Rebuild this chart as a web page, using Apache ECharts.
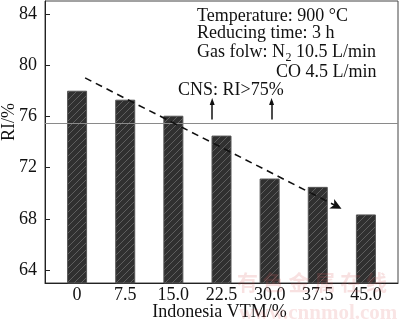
<!DOCTYPE html>
<html><head><meta charset="utf-8">
<script src="https://cdn.jsdelivr.net/npm/echarts@6/dist/echarts.min.js"></script>
<style>html,body{margin:0;padding:0;background:#fff}#c{width:400px;height:323px}</style>
</head><body><div id="c"></div>
<script>
const categories = [0, 7.5, 15.0, 22.5, 30.0, 37.5, 45.0];
const tickLabels = ['0', '7.5', '15.0', '22.5', '30.0', '37.5', '45.0'];
const riValues = [78.0, 77.3, 76.05, 74.5, 71.15, 70.5, 68.35];
const yTicks = [64, 68, 72, 76, 80, 84];
const cnsLimit = 75.5;
const trendStart = [1.25, 79.0];
const trendEnd = [41.2, 68.8];
const cnsArrowX = [21.05, 30.3];
const cnsArrowY = [75.75, 77.15];

const FONT = "'Liberation Serif','Times New Roman',serif";

function hatch() {
  const c = document.createElement('canvas');
  c.width = 7; c.height = 7;
  const g = c.getContext('2d');
  g.fillStyle = '#303030'; g.fillRect(0, 0, 7, 7);
  g.strokeStyle = '#5e5e5e'; g.lineWidth = 1;
  g.beginPath();
  g.moveTo(-1, 8); g.lineTo(8, -1);
  g.moveTo(-1, 1); g.lineTo(1, -1);
  g.moveTo(6, 8); g.lineTo(8, 6);
  g.stroke();
  return c;
}
const mctx = document.createElement('canvas').getContext('2d');
function tw(s, f) { mctx.font = f; return mctx.measureText(s).width; }

const chart = echarts.init(document.getElementById('c'), null, {renderer: 'canvas'});
const txt = (x, y, s, extra) => Object.assign({
  type: 'text', x: x, y: y, silent: true,
  style: Object.assign({text: s, font: '18px ' + FONT, fill: '#111', verticalAlign: 'middle'}, extra || {})
});
const gasA = 'Gas folw: N', gasB = ' 10.5 L/min';
const wA = tw(gasA, '18px ' + FONT), wS = tw('2', '12px ' + FONT);

chart.setOption({
  animation: false,
  backgroundColor: '#fff',
  grid: {left: 45, right: 2, top: 1, bottom: 40, show: true, borderColor: '#444', borderWidth: 1, outerBoundsMode: 'none'},
  xAxis: {
    type: 'value', min: -5, max: 50,
    axisLine: {onZero: false, lineStyle: {color: '#222', width: 1}},
    axisTick: {inside: true, length: 5, customValues: categories, lineStyle: {color: '#222'}},
    axisLabel: {customValues: categories, formatter: v => tickLabels[categories.indexOf(v)], color: '#111', fontFamily: FONT, fontSize: 18, margin: 3},
    splitLine: {show: false}
  },
  yAxis: {
    type: 'value', min: 63, max: 85,
    axisLine: {show: true, onZero: false, lineStyle: {color: '#222', width: 1}},
    axisTick: {show: true, inside: true, length: 5, customValues: yTicks, lineStyle: {color: '#222'}},
    axisLabel: {customValues: yTicks, color: '#111', fontFamily: FONT, fontSize: 18, margin: 8},
    splitLine: {show: false}
  },
  series: [{
    type: 'bar',
    data: categories.map((c, i) => [c, riValues[i]]),
    barWidth: 20,
    itemStyle: {color: {image: hatch(), repeat: 'repeat'}, borderColor: '#555', borderWidth: 1},
    emphasis: {disabled: true},
    markLine: {
      silent: true, animation: false,
      label: {show: false},
      symbol: ['none', 'none'],
      data: [
        [{coord: [-5, cnsLimit], symbol: 'none', lineStyle: {color: '#8a8a8a', width: 1, type: 'solid'}},
         {coord: [50, cnsLimit], symbol: 'none'}],
        [{coord: trendStart, symbol: 'none', lineStyle: {color: '#111', width: 1.6, type: [7, 5]}},
         {coord: trendEnd, symbol: 'arrow', symbolSize: [8, 11]}],
        [{coord: [cnsArrowX[0], cnsArrowY[0]], symbol: 'none', lineStyle: {color: '#111', width: 1.5, type: 'solid'}},
         {coord: [cnsArrowX[0], cnsArrowY[1]], symbol: 'triangle', symbolSize: [5, 7]}],
        [{coord: [cnsArrowX[1], cnsArrowY[0]], symbol: 'none', lineStyle: {color: '#111', width: 1.5, type: 'solid'}},
         {coord: [cnsArrowX[1], cnsArrowY[1]], symbol: 'triangle', symbolSize: [5, 7]}]
      ]
    }
  }],
  graphic: [
    txt(197, 16.5, 'Temperature: 900 °C'),
    txt(197, 33.5, 'Reducing time: 3 h'),
    txt(197, 52, gasA),
    txt(197 + wA + 0.5, 58, '2', {font: '12px ' + FONT}),
    txt(197 + wA + 0.5 + wS, 52, gasB),
    txt(276, 72, 'CO 4.5 L/min'),
    txt(178, 90.5, 'CNS: RI>75%'),
    txt(219.5, 312, 'Indonesia VTM/%', {align: 'center'}),
    {type: 'text', x: 9, y: 122, rotation: Math.PI / 2, silent: true,
     style: {text: 'RI/%', font: '18px ' + FONT, fill: '#111', align: 'center', verticalAlign: 'middle'}},
    {type: 'text', x: 312, y: 282, silent: true, z: 100,
     style: {text: '有 色 金 属 在 线', font: 'bold 21px "Noto Sans CJK SC"', fill: 'rgba(215,90,90,0.18)', align: 'center', verticalAlign: 'middle'}},
    {type: 'text', x: 318, y: 314, silent: true, z: 100,
     style: {text: 'www.cnnmol.com', font: 'bold 21px ' + FONT, fill: 'rgba(215,90,90,0.16)', align: 'center', verticalAlign: 'middle'}}
  ]
});
</script>
</body></html>
